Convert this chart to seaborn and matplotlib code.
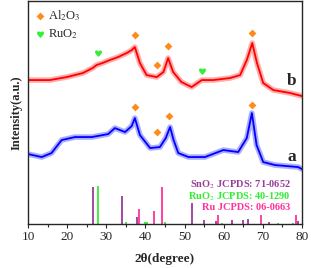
import numpy as np
import pandas as pd
import matplotlib
matplotlib.use("Agg")
import matplotlib.pyplot as plt
import seaborn as sns
from matplotlib.ticker import MultipleLocator
from matplotlib.path import Path

sns.set_style("ticks")
plt.rcParams['font.family'] = ['Liberation Serif', 'DejaVu Serif']
plt.rcParams['mathtext.fontset'] = 'stix'

# ---- data (2theta in degree, intensity in a.u.) ----
b_x = [10, 12.5, 15.6, 19.9, 24, 26.5, 27.5, 29, 30.9, 33, 35.2, 36.5, 37.3, 38.6, 40.3,
       42.9, 44.6, 45.8, 47.1, 49.2, 51.8, 54.4, 57.3, 61.6, 64.2, 65.9, 67.3, 68.5,
       70.1, 72.7, 77, 80]
b_y = [144, 144, 144, 147, 151, 156, 159, 161, 164, 167, 171, 174, 177, 161, 149,
       147, 152, 166, 152, 142, 137, 144, 144, 146, 149, 164, 181, 161,
       141, 134, 131, 128]

a_x = [10, 13.5, 16, 18.6, 22, 26.3, 30.5, 32.2, 34.8, 36.5, 37.3, 38.6, 41.2, 43.7,
       45.2, 46.3, 47.2, 48.4, 51, 55.2, 59.9, 63.7, 65.9, 67.2, 68.4, 70.1, 73.1, 79, 80]
a_y = [70, 67, 71, 84, 87, 87, 90, 96, 92, 98, 106, 89, 76, 77,
       86, 97, 84, 71, 67, 67, 74, 72, 86, 111, 79, 62, 59, 57, 55]

al2o3_b_x = [37.3, 43.0, 45.8, 67.3]
al2o3_b_y = [189, 159, 178, 191]
al2o3_a_x = [37.3, 42.9, 46.1, 67.2]
al2o3_a_y = [117, 92, 108, 119]
ruo2_x = [27.8, 54.4]
ruo2_y = [171, 153]

sno2_pos = [26.5, 33.9, 37.9, 51.9, 54.9, 58.0, 62.0, 64.9, 66.1, 71.5, 78.9]
sno2_h = [37, 28, 7, 21, 4, 3, 4, 4, 5, 2, 3]
ruo2_pos = [27.8, 35.1, 39.9, 40.4, 45.0, 59.5, 74.0, 77.7]
ruo2_h = [38, 2, 2, 2, 2, 1, 1, 1]
ru_pos = [38.4, 42.2, 44.2, 58.5, 69.5, 78.5]
ru_h = [15, 13, 37, 9, 9, 9]

x_ticks = [10, 20, 30, 40, 50, 60, 70, 80]

c_sno2 = '#993d99'
c_ruo2 = '#33ee33'
c_ru = '#ff3399'
c_al = '#ff8c1a'

# heart marker shape
heart = Path(
    [(0, -1.0), (-0.6, -0.4), (-1.0, 0.0), (-1.0, 0.45),
     (-1.0, 0.9), (-0.45, 1.1), (0, 0.6),
     (0.45, 1.1), (1.0, 0.9), (1.0, 0.45),
     (1.0, 0.0), (0.6, -0.4), (0, -1.0), (0, -1.0)],
    [Path.MOVETO, Path.CURVE4, Path.CURVE4, Path.CURVE4,
     Path.CURVE4, Path.CURVE4, Path.CURVE4,
     Path.CURVE4, Path.CURVE4, Path.CURVE4,
     Path.CURVE4, Path.CURVE4, Path.CURVE4, Path.CLOSEPOLY])

fig = plt.figure(figsize=(3.11, 2.68), dpi=100)
ax = fig.add_axes([0.09, 0.164, 0.881, 0.832])

df_b = pd.DataFrame({'x': b_x, 'y': b_y})
df_a = pd.DataFrame({'x': a_x, 'y': a_y})
for df, col, light in [(df_b, '#ff0000', '#ff9999'), (df_a, '#0000ff', '#9999ff')]:
    sns.lineplot(data=df, x='x', y='y', ax=ax, color=light, lw=4.0, alpha=0.8, legend=False)
    sns.lineplot(data=df, x='x', y='y', ax=ax, color=col, lw=1.3, legend=False)

ax.vlines(sno2_pos, 0, sno2_h, color=c_sno2, lw=1.3)
ax.vlines(ruo2_pos, 0, ruo2_h, color=c_ruo2, lw=1.3)
ax.vlines(ru_pos, 0, ru_h, color=c_ru, lw=1.3)

ax.scatter(al2o3_b_x, al2o3_b_y, marker='D', s=16, color=c_al, zorder=5, linewidths=0)
ax.scatter(al2o3_a_x, al2o3_a_y, marker='D', s=16, color=c_al, zorder=5, linewidths=0)
ax.scatter(ruo2_x, ruo2_y, marker=heart, s=30, color=c_ruo2, zorder=5, linewidths=0)

# legend-like annotations
ax.scatter([13.1], [208], marker='D', s=16, color=c_al, linewidths=0)
ax.text(15.0, 208, r'Al$_2$O$_3$', fontsize=9, va='center', ha='left')
ax.scatter([13.1], [190], marker=heart, s=30, color=c_ruo2, linewidths=0)
ax.text(15.0, 190, r'RuO$_2$', fontsize=9, va='center', ha='left')

ax.text(78.6, 143, 'b', fontsize=12.5, fontweight='bold', ha='right', va='center')
ax.text(78.6, 67, 'a', fontsize=12.5, fontweight='bold', ha='right', va='center')

ax.text(77.2, 39, r'SnO$_2$ JCPDS: 71-0652', color=c_sno2, fontsize=7.5,
        fontweight='bold', ha='right', va='center')
ax.text(77.2, 27.5, r'RuO$_2$ JCPDS: 40-1290', color=c_ruo2, fontsize=7.5,
        fontweight='bold', ha='right', va='center')
ax.text(77.0, 17, 'Ru JCPDS: 06-0663', color=c_ru, fontsize=7.5,
        fontweight='bold', ha='right', va='center')

ax.set_xlim(10, 80)
ax.set_ylim(0, 223)
ax.set_xticks(x_ticks)
ax.xaxis.set_minor_locator(MultipleLocator(5))
ax.set_yticks([])
ax.tick_params(axis='x', which='major', direction='out', length=3, width=0.8,
               labelsize=9.5, pad=2)
ax.tick_params(axis='x', which='minor', direction='out', length=2, width=0.8)
ax.set_xlabel('2θ(degree)', fontsize=9.5, fontweight='bold', labelpad=7)
ax.set_ylabel('Intensity(a.u.)', fontsize=9, fontweight='bold', labelpad=4)
for s in ax.spines.values():
    s.set_linewidth(1.0)
    s.set_visible(True)

fig.savefig('out.png', dpi=100)
